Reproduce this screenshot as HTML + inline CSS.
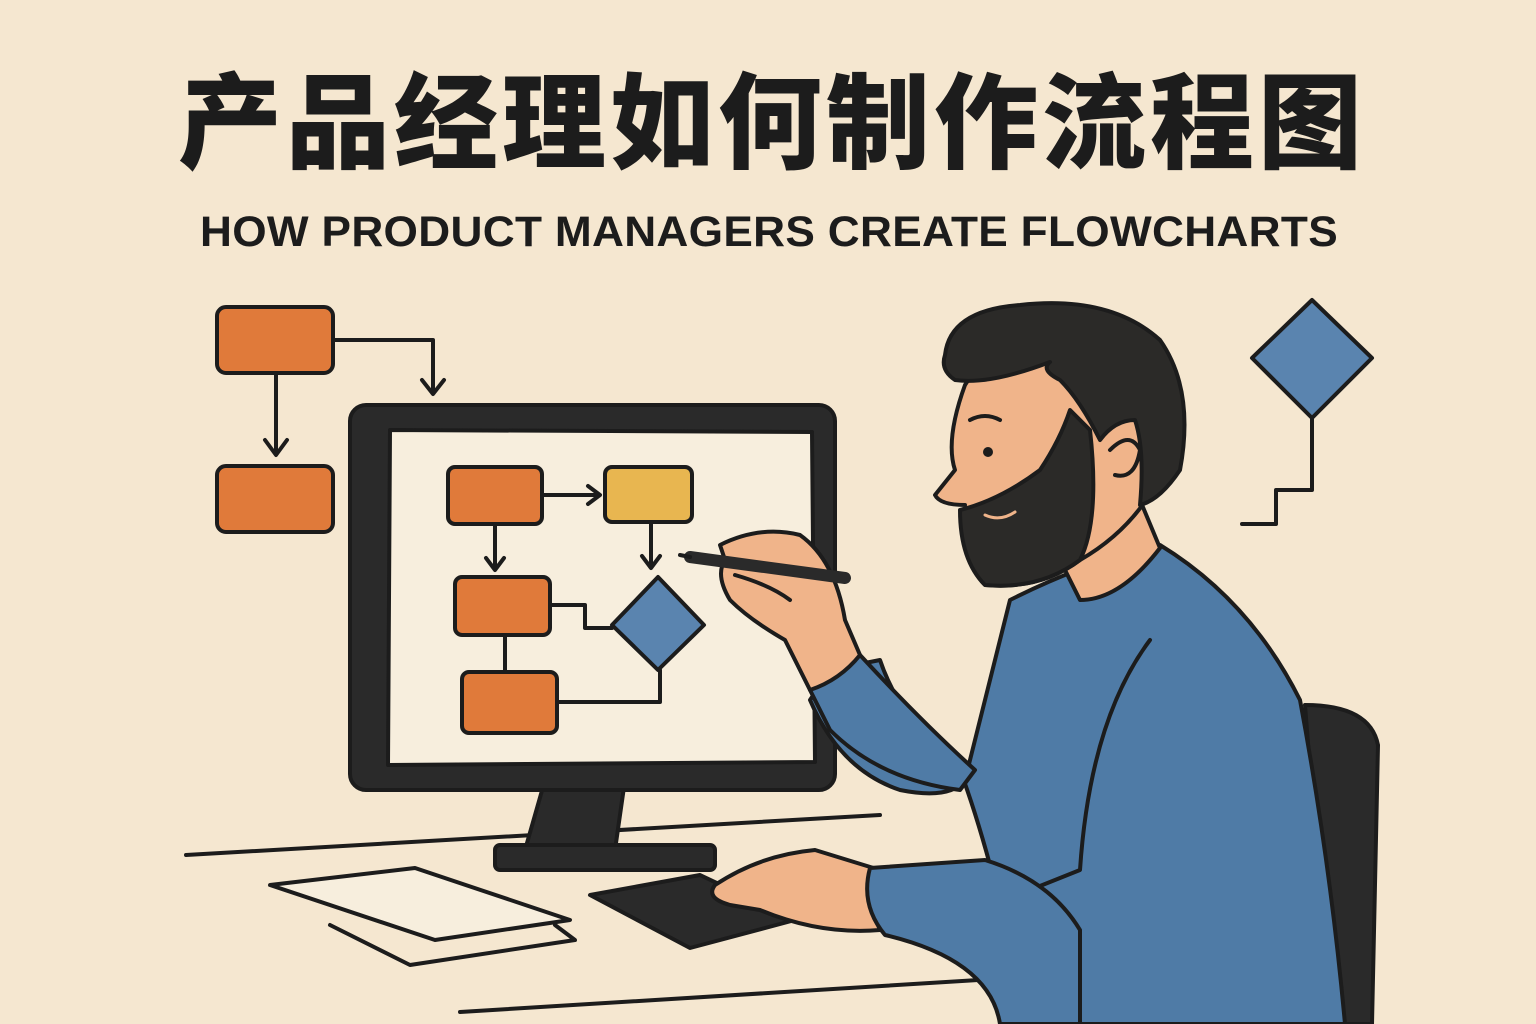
<!DOCTYPE html>
<html><head><meta charset="utf-8"><style>
html,body{margin:0;padding:0;background:#F5E7D0;}
svg{display:block}
</style></head><body>
<svg width="1536" height="1024" viewBox="0 0 1536 1024" xmlns="http://www.w3.org/2000/svg">
<rect width="1536" height="1024" fill="#F5E7D0"/>
<text x="772" y="160" text-anchor="middle" font-family="'Noto Sans CJK SC','WenQuanYi Zen Hei',sans-serif" font-weight="900" font-size="104" fill="#1c1c1c" letter-spacing="4">产品经理如何制作流程图</text>
<text x="769" y="246" text-anchor="middle" font-family="'Liberation Sans',sans-serif" font-weight="bold" font-size="43" fill="#1c1c1c" letter-spacing="0.3" textLength="1138" lengthAdjust="spacingAndGlyphs">HOW PRODUCT MANAGERS CREATE FLOWCHARTS</text>

<g stroke="#1c1c1c" stroke-width="4" stroke-linejoin="round" stroke-linecap="round">
<rect x="217" y="307" width="116" height="66" rx="9" fill="#E07A3A"/>
<rect x="217" y="466" width="116" height="66" rx="9" fill="#E07A3A"/>
<polyline points="333,340 433,340 433,393" fill="none"/>
<polyline points="422,380 433,394 444,380" fill="none"/>
<line x1="276" y1="373" x2="276" y2="454"/>
<polyline points="265,440 276,455 287,440" fill="none"/>

<polygon points="1312,300 1372,358 1312,418 1252,358" fill="#5A84AF"/>
<polyline points="1312,418 1312,490 1276,490 1276,524 1242,524" fill="none"/>

<line x1="186" y1="855" x2="880" y2="815"/>
<line x1="460" y1="1012" x2="1060" y2="975"/>
<polygon points="270,885 415,868 570,920 435,940" fill="#F7EEDD"/>
<polyline points="330,925 410,965 575,940 555,925" fill="none"/>

<polygon points="545,780 625,780 615,850 525,850" fill="#2a2a2a"/>
<rect x="495" y="845" width="220" height="25" rx="5" fill="#2a2a2a"/>
<rect x="350" y="405" width="485" height="385" rx="16" fill="#2a2a2a"/>
<polygon points="390,430 812,432 815,762 388,765" fill="#F7EEDD"/>

<rect x="448" y="467" width="94" height="57" rx="7" fill="#E07A3A"/>
<rect x="605" y="467" width="87" height="55" rx="7" fill="#E8B650"/>
<line x1="542" y1="495" x2="598" y2="495"/>
<polyline points="588,486 600,495 588,504" fill="none"/>
<line x1="495" y1="524" x2="495" y2="568"/>
<polyline points="486,558 495,570 504,558" fill="none"/>
<line x1="651" y1="522" x2="651" y2="566"/>
<polyline points="642,556 651,568 660,556" fill="none"/>
<rect x="455" y="577" width="95" height="58" rx="7" fill="#E07A3A"/>
<polygon points="658,577 704,625 658,670 612,625" fill="#5A84AF"/>
<polyline points="550,605 585,605 585,628 612,628" fill="none"/>
<line x1="505" y1="635" x2="505" y2="672"/>
<rect x="462" y="672" width="95" height="61" rx="7" fill="#E07A3A"/>
<polyline points="557,702 660,702 660,670" fill="none"/>

<polygon points="590,895 700,875 795,920 690,948" fill="#2a2a2a"/>

<path d="M1305,705 Q1370,705 1378,745 L1372,1024 L1330,1024 Z" fill="#2a2a2a"/>

<path d="M1010,600 Q1090,560 1160,545 Q1250,600 1300,700 Q1330,860 1345,1024 L1080,1024 Q1060,960 1000,940 L880,930 Q860,890 880,870 L990,865 Q975,810 960,770 Q900,720 880,660 L830,670 L810,700 Q840,770 900,790 Q950,800 965,780 Z" fill="#4F7BA6"/>
<path d="M810,690 L860,655 Q920,720 975,770 L960,790 Q880,780 830,730 Z" fill="#4F7BA6"/>
<path d="M1150,640 Q1090,720 1080,870 L1030,890" fill="none"/>

<path d="M1060,560 L1080,600 Q1120,600 1160,548 L1140,500 Z" fill="#F0B48A"/>
<path d="M965,385 Q945,440 955,470 L935,495 Q940,505 965,505 Q960,560 985,585 Q1040,590 1080,560 Q1150,520 1175,440 Q1170,360 1080,330 Q1000,330 965,385 Z" fill="#F0B48A"/>
<path d="M960,510 Q1000,500 1040,470 Q1060,440 1070,410 L1090,430 Q1100,520 1080,560 Q1040,590 985,585 Q960,560 960,510 Z" fill="#2b2a28"/>
<path d="M945,355 Q950,310 1020,305 Q1110,295 1160,340 Q1195,390 1180,470 Q1160,500 1140,505 Q1145,450 1135,420 Q1115,420 1100,440 Q1080,400 1060,380 Q1040,370 1050,362 Q990,385 955,380 Q940,370 945,355 Z" fill="#2b2a28"/>
<path d="M1110,450 Q1130,430 1140,450 Q1135,480 1115,475" fill="#F0B48A"/>
<circle cx="988" cy="452" r="5" fill="#1c1c1c" stroke="none"/>
<path d="M970,420 Q985,412 1000,420" fill="none"/>
<path d="M985,515 Q1000,522 1015,512" fill="none" stroke="#F0B48A" stroke-width="3"/>

<path d="M720,545 Q760,525 800,535 Q835,560 845,620 L860,655 Q840,680 810,690 L785,640 Q750,620 730,600 Q715,575 725,560 Z" fill="#F0B48A"/>
<line x1="690" y1="557" x2="845" y2="578" stroke="#2a2a2a" stroke-width="12"/>
<line x1="680" y1="555" x2="690" y2="557"/>
<path d="M735,575 Q770,585 790,600" fill="none"/>

<path d="M715,885 Q760,855 815,850 L880,870 Q870,910 880,930 Q820,935 760,910 L730,905 Q705,898 715,885 Z" fill="#F0B48A"/>
<path d="M870,868 L985,860 Q1050,880 1080,930 L1080,1024 L1000,1024 Q990,960 885,935 Q860,905 870,868 Z" fill="#4F7BA6"/>
</g>
</svg>
</body></html>
